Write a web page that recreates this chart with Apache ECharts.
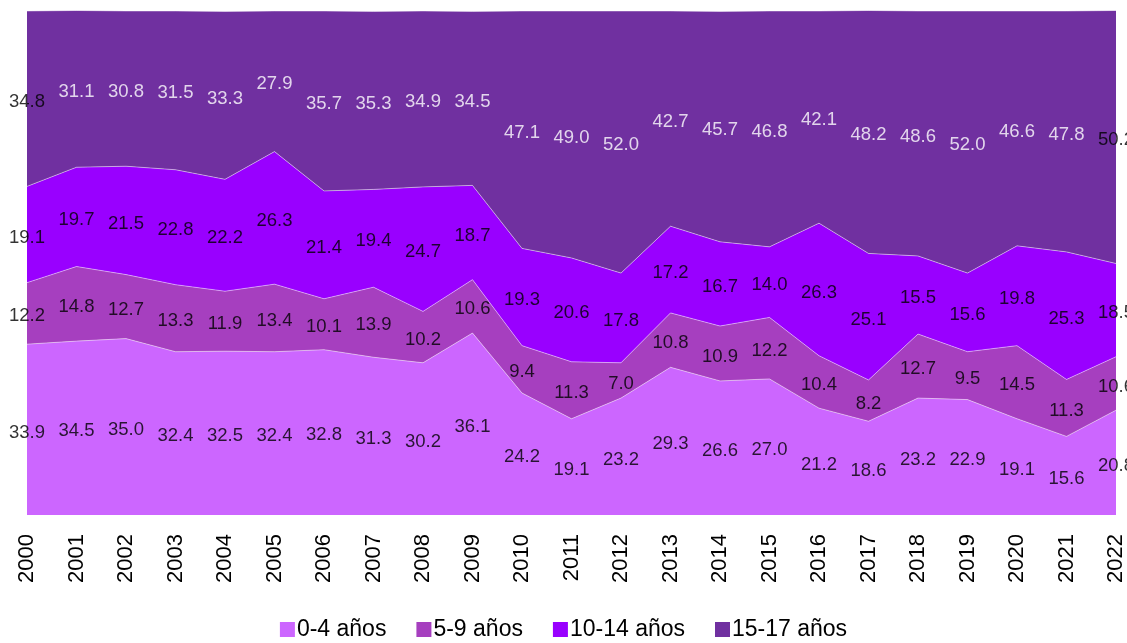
<!DOCTYPE html>
<html><head><meta charset="utf-8">
<script src="https://cdn.jsdelivr.net/npm/echarts@6/dist/echarts.min.js"></script>
<style>html,body{margin:0;padding:0;background:#fff}#c{width:1127px;height:643px}</style>
</head><body><div id="c"></div>
<script>
var years = ['2000','2001','2002','2003','2004','2005','2006','2007','2008','2009','2010','2011','2012','2013','2014','2015','2016','2017','2018','2019','2020','2021','2022'];
var names = ['0-4 años','5-9 años','10-14 años','15-17 años'];
var s04 = [33.9,34.5,35.0,32.4,32.5,32.4,32.8,31.3,30.2,36.1,24.2,19.1,23.2,29.3,26.6,27.0,21.2,18.6,23.2,22.9,19.1,15.6,20.8];
var s59 = [12.2,14.8,12.7,13.3,11.9,13.4,10.1,13.9,10.2,10.6,9.4,11.3,7.0,10.8,10.9,12.2,10.4,8.2,12.7,9.5,14.5,11.3,10.6];
var s1014 = [19.1,19.7,21.5,22.8,22.2,26.3,21.4,19.4,24.7,18.7,19.3,20.6,17.8,17.2,16.7,14.0,26.3,25.1,15.5,15.6,19.8,25.3,18.5];
var s1517 = [34.8,31.1,30.8,31.5,33.3,27.9,35.7,35.3,34.9,34.5,47.1,49.0,52.0,42.7,45.7,46.8,42.1,48.2,48.6,52.0,46.6,47.8,50.2];
var colors = ['#CC66FF','#A63FBF','#9900FF','#7030A0'];
var all = [s04,s59,s1014,s1517];

var series = [];
all.forEach(function(arr,i){
  series.push({
    name: names[i], type:'line', stack:'total', data: arr,
    symbol:'none', smooth:false,
    lineStyle:{width:1,color:'rgba(255,255,255,0.45)'},
    itemStyle:{color:colors[i]},
    areaStyle:{color:colors[i],opacity:1},
    emphasis:{disabled:true}, z:2
  });
});
// label series: placed at the middle of each band
all.forEach(function(arr,i){
  var data = arr.map(function(v,k){
    var base = 0;
    for (var j=0;j<i;j++) base += all[j][k];
    var item = {value:[k, base + v/2], raw:v};
    if (i===3 && (k===0 || k===arr.length-1)) item.label = {color:'#000'};
    return item;
  });
  series.push({
    name:'lbl'+i, type:'scatter', data:data, symbolSize:1,
    itemStyle:{color:'rgba(0,0,0,0)'}, silent:true, z:5,
    label:{show:true, position:'inside', offset:[0,3], fontFamily:'Liberation Sans, Arial, sans-serif', fontSize:18.5,
      color: i===3 ? '#fff' : '#000',
      formatter:function(p){return p.data.raw.toFixed(1);}}
  });
});

var chart = echarts.init(document.getElementById('c'));
chart.setOption({
  animation:false,
  grid:{left:27,right:10,top:11,bottom:128},
  xAxis:{type:'category',data:years,boundaryGap:false,
    axisLine:{show:false},axisTick:{show:false},
    axisLabel:{rotate:90,fontSize:22,color:'#000',fontFamily:'Liberation Sans, Arial, sans-serif',margin:19,interval:0}},
  yAxis:{type:'value',min:0,max:100,show:false,splitLine:{show:false}},
  legend:{data:names,bottom:-3,left:'center',icon:'rect',itemWidth:15,itemHeight:15,itemGap:30,
    textStyle:{fontSize:23,color:'#000',fontFamily:'Liberation Sans, Arial, sans-serif',padding:[0,0,0,-3]}},
  series:series
});
</script></body></html>
